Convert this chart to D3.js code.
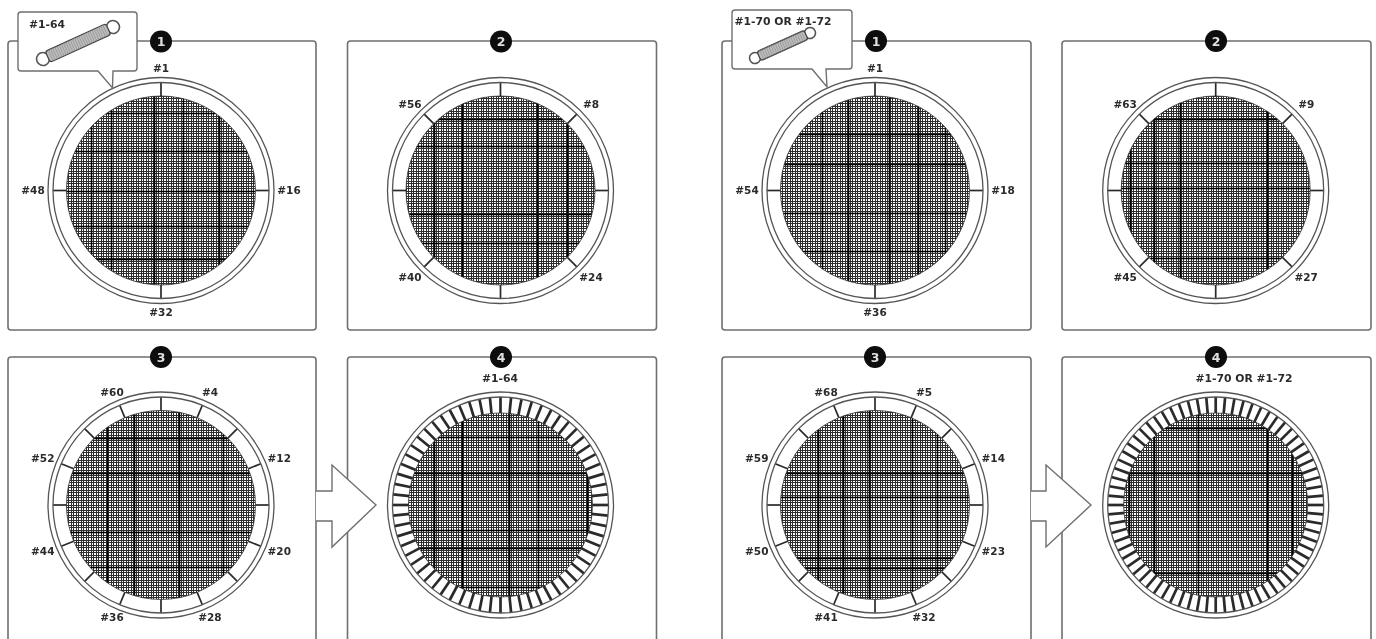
<!DOCTYPE html>
<html lang="en">
<head>
	<title>Spring installation order</title>
	<script src="https://d3js.org/d3.v7.min.js" charset="utf-8"></script>
	<style>
		html, body { margin: 0; padding: 0; background: #fff; }
		svg { display: block; }
		text { font-family: "DejaVu Sans", sans-serif; font-weight: bold; fill: #2b2b2b; text-anchor: middle; }
	</style>
</head>
<body>
	<script>
		// spring numbers called out around the frame, clockwise from the top (null = tick only)
		var springsA1 = [1, 16, 32, 48];
		var springsA2 = [null, 8, null, 24, null, 40, null, 56];
		var springsA3 = [null, 4, null, 12, null, 20, null, 28, null, 36, null, 44, null, 52, null, 60];
		var springsB1 = [1, 18, 36, 54];
		var springsB2 = [null, 9, null, 27, null, 45, null, 63];
		var springsB3 = [null, 5, null, 14, null, 23, null, 32, null, 41, null, 50, null, 59, null, 68];

		// full spring counts for step 4 and the captions that go with them
		var totalA = 64;
		var totalB = 72;
		var captionA = "#1-64";
		var captionB = "#1-70 OR #1-72";

		// heavier mat webbing, offsets from the mat centre
		var heavyXA = [[-70, -50, -7, 22, 58], [-67, -39, 36, 66], [-54, -27, 18, 62], [-67, -39, 8, 37, 86]];
		var heavyYA = [[-78, -40, 0, 35, 68], [-72, -45, 23, 52], [-67, -32, 27, 62], [-68, -32, 25, 43, 82]];
		var heavyXB = [[-53, -27, 14, 43, 70], [-86, -62, -36, 51], [-57, -32, -6, 37, 62], [-87, -62, -18, 51, 76]];
		var heavyYB = [[-57, -27, 22, 60], [-72, -28, -3, 67], [-32, -8, 53, 63], [-77, -32, 68, 92]];

		var width = 1376;
		var height = 639;
		var rOuter = 113, rInner = 108, rMat = 94.5;
		var lineGrey = "#6f6f6f";

		var svg = d3.select( "body" )
			.append( "svg" )
			.attr( "width", width )
			.attr( "height", height );

		var defs = svg.append( "defs" );

		// the source is a soft, scanned looking drawing
		defs.append( "filter" )
			.attr( "id", "soft" )
			.attr( "filterUnits", "userSpaceOnUse" )
			.attr( "x", 0 ).attr( "y", 0 )
			.attr( "width", width ).attr( "height", height )
			.append( "feGaussianBlur" )
			.attr( "stdDeviation", 0.75 );

		var root = svg.append( "g" ).attr( "filter", "url(#soft)" );
		root.append( "rect" ).attr( "width", width ).attr( "height", height ).attr( "fill", "#fff" );

		var clipCount = 0;

		function drawMat( g, cx, cy, r, heavyX, heavyY ) {
			var id = "mat" + (clipCount++);
			defs.append( "clipPath" ).attr( "id", id )
				.append( "circle" ).attr( "cx", cx ).attr( "cy", cy ).attr( "r", r );

			var mat = g.append( "g" ).attr( "clip-path", "url(#" + id + ")" );
			mat.append( "circle" ).attr( "cx", cx ).attr( "cy", cy ).attr( "r", r ).attr( "fill", "#fff" );

			// weave sits on whole pixels so every panel comes out alike
			var ox = Math.round( cx ) + 0.5, oy = Math.round( cy ) + 0.5;

			// fine weave: pairs of strands, leaving square holes between the pairs
			var cells = d3.range( -100, 101, 5 );
			var offsets = d3.merge( cells.map( function(d){ return [d, d + 2]; } ) );

			mat.append( "g" ).selectAll( "line" ).data( offsets ).enter().append( "line" )
				.attr( "x1", function(d){ return ox + d; } ).attr( "x2", function(d){ return ox + d; } )
				.attr( "y1", cy - r ).attr( "y2", cy + r )
				.attr( "stroke", "#2e2e2e" ).attr( "stroke-width", 1 );
			mat.append( "g" ).selectAll( "line" ).data( offsets ).enter().append( "line" )
				.attr( "y1", function(d){ return oy + d; } ).attr( "y2", function(d){ return oy + d; } )
				.attr( "x1", cx - r ).attr( "x2", cx + r )
				.attr( "stroke", "#2e2e2e" ).attr( "stroke-width", 1 );

			mat.append( "g" ).selectAll( "line" ).data( heavyX ).enter().append( "line" )
				.attr( "x1", function(d){ return ox + d; } ).attr( "x2", function(d){ return ox + d; } )
				.attr( "y1", cy - r ).attr( "y2", cy + r )
				.attr( "stroke", "#000" ).attr( "stroke-width", 1.5 );
			mat.append( "g" ).selectAll( "line" ).data( heavyY ).enter().append( "line" )
				.attr( "y1", function(d){ return oy + d; } ).attr( "y2", function(d){ return oy + d; } )
				.attr( "x1", cx - r ).attr( "x2", cx + r )
				.attr( "stroke", "#000" ).attr( "stroke-width", 1.5 );

			g.append( "circle" ).attr( "cx", cx ).attr( "cy", cy ).attr( "r", r )
				.attr( "fill", "none" ).attr( "stroke", "#333" ).attr( "stroke-width", 0.8 );
		}

		function drawFrame( g, cx, cy, count, strokeW, r0, r1 ) {
			var angle = d3.scaleLinear().domain( [0, count] ).range( [0, 2 * Math.PI] );
			g.append( "g" ).selectAll( "line" ).data( d3.range( count ) ).enter().append( "line" )
				.attr( "x1", function(d){ return cx + d3.pointRadial( angle(d), r0 )[0]; } )
				.attr( "y1", function(d){ return cy + d3.pointRadial( angle(d), r0 )[1]; } )
				.attr( "x2", function(d){ return cx + d3.pointRadial( angle(d), r1 )[0]; } )
				.attr( "y2", function(d){ return cy + d3.pointRadial( angle(d), r1 )[1]; } )
				.attr( "stroke", "#2a2a2a" ).attr( "stroke-width", strokeW );

			g.append( "g" ).selectAll( "circle" ).data( [rOuter, rInner] ).enter().append( "circle" )
				.attr( "cx", cx ).attr( "cy", cy )
				.attr( "r", function(d){ return d; } )
				.attr( "fill", "none" ).attr( "stroke", "#555" ).attr( "stroke-width", 1.3 );
		}

		function drawLabels( g, cx, cy, springs ) {
			var angle = d3.scaleLinear().domain( [0, springs.length] ).range( [0, 2 * Math.PI] );
			g.append( "g" ).selectAll( "text" )
				.data( springs.map( function(s, i){ return { s: s, i: i }; } ).filter( function(d){ return d.s !== null; } ) )
				.enter().append( "text" )
				.attr( "x", function(d){ return cx + 128 * d3.pointRadial( angle(d.i), 1 )[0]; } )
				.attr( "y", function(d){ return cy + 122 * d3.pointRadial( angle(d.i), 1 )[1]; } )
				.attr( "dy", "0.36em" )
				.attr( "font-size", 10.5 )
				.text( function(d){ return "#" + d.s; } );
		}

		function drawBadge( g, x, y, label ) {
			g.append( "circle" ).attr( "cx", x ).attr( "cy", y ).attr( "r", 11 ).attr( "fill", "#0a0a0a" );
			g.append( "text" ).attr( "x", x ).attr( "y", y ).attr( "dy", "0.37em" )
				.attr( "font-size", 12.5 ).style( "fill", "#e0e0e0" ).text( label );
		}

		function drawBox( g, x0, y0, x1, y1 ) {
			g.append( "rect" )
				.attr( "x", x0 ).attr( "y", y0 )
				.attr( "width", x1 - x0 ).attr( "height", y1 - y0 )
				.attr( "rx", 3 )
				.attr( "fill", "#fff" ).attr( "stroke", lineGrey ).attr( "stroke-width", 1.6 );
		}

		// loose spring in the callout, from hook to hook
		function drawSpring( g, x0, y0, x1, y1, bodyW, hookR ) {
			var len = Math.hypot( x1 - x0, y1 - y0 );
			var s = g.append( "g" )
				.attr( "transform", "translate(" + x0 + "," + y0 + ") rotate(" + (Math.atan2( y1 - y0, x1 - x0 ) * 180 / Math.PI) + ")" );
			[0, len].forEach( function(x) {
				s.append( "circle" ).attr( "cx", x ).attr( "cy", 0 ).attr( "r", hookR )
					.attr( "fill", "#fff" ).attr( "stroke", "#555" ).attr( "stroke-width", 1.6 );
			} );
			s.append( "rect" )
				.attr( "x", hookR * 0.8 ).attr( "y", -bodyW / 2 )
				.attr( "width", len - 1.6 * hookR ).attr( "height", bodyW )
				.attr( "rx", 2.5 )
				.attr( "fill", "#bdbdbd" ).attr( "stroke", "#444" ).attr( "stroke-width", 1.3 );
			s.append( "g" ).selectAll( "line" ).data( d3.range( hookR + 2, len - hookR, 2.4 ) ).enter().append( "line" )
				.attr( "x1", function(d){ return d; } ).attr( "x2", function(d){ return d; } )
				.attr( "y1", -bodyW / 2 ).attr( "y2", bodyW / 2 )
				.attr( "stroke", "#929292" ).attr( "stroke-width", 0.7 );
		}

		function drawCallout( g, x0, y0, x1, y1, p0, p1, tipX, tipY, label, labelX, labelY ) {
			g.append( "path" )
				.attr( "d", "M" + (x0 + 3) + "," + y0 + " H" + (x1 - 3) + " Q" + x1 + "," + y0 + " " + x1 + "," + (y0 + 3) +
					" V" + (y1 - 3) + " Q" + x1 + "," + y1 + " " + (x1 - 3) + "," + y1 +
					" H" + p1 + " L" + tipX + "," + tipY + " L" + p0 + "," + y1 +
					" H" + (x0 + 3) + " Q" + x0 + "," + y1 + " " + x0 + "," + (y1 - 3) +
					" V" + (y0 + 3) + " Q" + x0 + "," + y0 + " " + (x0 + 3) + "," + y0 + " Z" )
				.attr( "fill", "#fff" ).attr( "stroke", lineGrey ).attr( "stroke-width", 1.4 );
			g.append( "text" ).attr( "x", labelX ).attr( "y", labelY ).attr( "dy", "0.36em" )
				.attr( "font-size", 10.8 ).text( label );
		}

		function drawArrow( g, x, notch, tip ) {
			g.append( "path" )
				.attr( "d", "M" + x + ",491 H" + notch + " V465 L" + tip + ",505 L" + notch + ",547 V521 H" + x )
				.attr( "fill", "#fff" ).attr( "stroke", lineGrey ).attr( "stroke-width", 1.4 );
		}

		function drawSet( box, cols, spr, total, heavyX, heavyY, caption, captionX ) {
			var g = root.append( "g" );
			var top = 41, top2 = 357, bottom = 330, rowCy = [190.5, 505];

			drawBox( g, box[0], top, box[1], bottom );
			drawBox( g, box[2], top, box[3], bottom );
			drawBox( g, box[0], top2, box[1], height + 20 );
			drawBox( g, box[2], top2, box[3], height + 20 );

			// steps 1-3: ticks only at the called out springs
			[[cols[0], rowCy[0], spr[0]], [cols[1], rowCy[0], spr[1]], [cols[0], rowCy[1], spr[2]]].forEach( function(p, i) {
				drawMat( g, p[0], p[1], rMat, heavyX[i], heavyY[i] );
				drawFrame( g, p[0], p[1], p[2].length, 1.7, rMat, rInner );
				drawLabels( g, p[0], p[1], p[2] );
			} );

			// step 4: every spring on
			drawFrame( g, cols[1], rowCy[1], total, 2.7, 91, rInner );
			drawMat( g, cols[1], rowCy[1], 92, heavyX[3], heavyY[3] );
			g.append( "text" ).attr( "x", captionX ).attr( "y", 378 ).attr( "dy", "0.36em" )
				.attr( "font-size", 10.8 ).text( caption );

			return g;
		}

		var setA = drawSet( [8, 316, 347.5, 656.5], [161, 500.5], [springsA1, springsA2, springsA3], totalA, heavyXA, heavyYA, captionA, 500 );
		drawCallout( setA, 18, 12, 137, 71, 98, 113, 112.5, 88, captionA, 47, 24 );
		drawSpring( setA, 43, 59, 113, 27, 12, 6.5 );
		drawArrow( setA, 316, 332, 376 );
		drawBadge( setA, 161, 41.5, "1" );
		drawBadge( setA, 501, 41.5, "2" );
		drawBadge( setA, 161, 357, "3" );
		drawBadge( setA, 501, 357, "4" );

		var setB = drawSet( [722, 1031, 1062, 1371], [875, 1215.7], [springsB1, springsB2, springsB3], totalB, heavyXB, heavyYB, captionB, 1244 );
		drawCallout( setB, 732, 10, 852, 69, 812, 826, 827, 87, captionB, 783, 21 );
		drawSpring( setB, 755, 58, 810, 33, 10, 5.5 );
		drawArrow( setB, 1031, 1046, 1091 );
		drawBadge( setB, 876, 41, "1" );
		drawBadge( setB, 1216, 41, "2" );
		drawBadge( setB, 875, 357, "3" );
		drawBadge( setB, 1216, 357, "4" );
	</script>
</body>
</html>
